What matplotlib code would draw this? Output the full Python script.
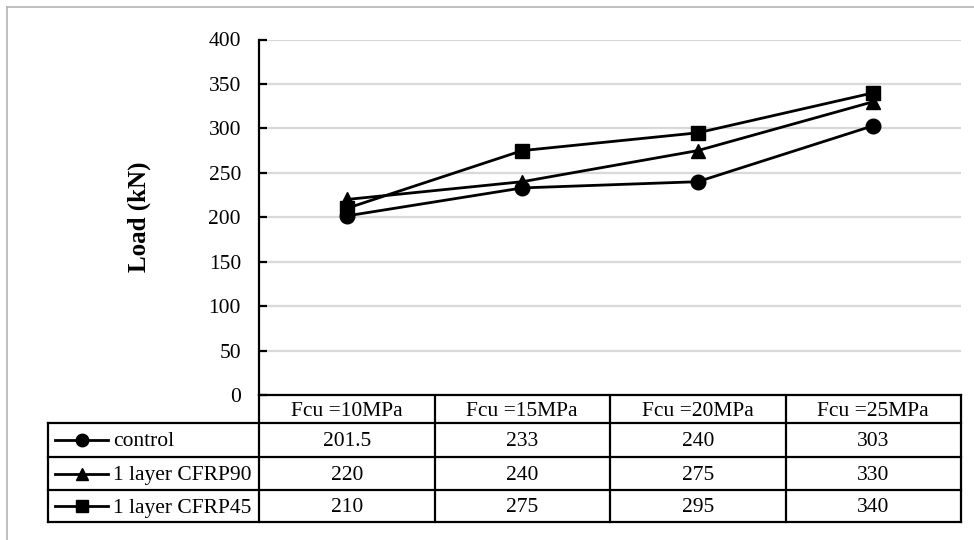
import matplotlib
matplotlib.use('Agg')
import matplotlib.pyplot as plt

# ---- data ----
categories = ['Fcu =10MPa', 'Fcu =15MPa', 'Fcu =20MPa', 'Fcu =25MPa']
series_names = ['control', '1 layer CFRP90', '1 layer CFRP45']
control = [201.5, 233, 240, 303]
cfrp90 = [220, 240, 275, 330]
cfrp45 = [210, 275, 295, 340]
value_labels = [['201.5', '233', '240', '303'],
                ['220', '240', '275', '330'],
                ['210', '275', '295', '340']]
yticks = [0, 50, 100, 150, 200, 250, 300, 350, 400]
series = [control, cfrp90, cfrp45]
markers = ['o', '^', 's']
msizes = [10.5, 10.5, 10]

plt.rcParams['font.family'] = ['Liberation Serif', 'DejaVu Serif']

W, H = 974, 540
fig = plt.figure(figsize=(W / 100, H / 100), dpi=100)

def fx(px):
    return px / W

def fy(py):
    return 1 - py / H

ax_left, ax_right, ax_top, ax_bot = 259, 961, 39.5, 395
ax = fig.add_axes([fx(ax_left), fy(ax_bot), (ax_right - ax_left) / W, (ax_bot - ax_top) / H])
xs = list(range(len(categories)))
for vals, m, ms in zip(series, markers, msizes):
    ax.plot(xs, vals, color='black', lw=2, marker=m, ms=ms, zorder=3, clip_on=False)
ax.set_xlim(-0.5, len(categories) - 0.5)
ax.set_ylim(0, 400)
ax.set_yticks(yticks)
ax.grid(axis='y', color='#d9d9d9', lw=1.6)
ax.set_axisbelow(True)
for s in ['top', 'right']:
    ax.spines[s].set_visible(False)
ax.spines['left'].set_linewidth(1.6)
ax.spines['bottom'].set_linewidth(1.6)
ax.tick_params(axis='y', direction='in', length=6, width=1.6, pad=13, labelsize=15.5)
ax.tick_params(axis='x', bottom=False, labelbottom=False)
ax.set_ylabel('Load (kN)', fontsize=18, fontweight='bold')
ax.yaxis.set_label_coords((151 - ax_left) / (ax_right - ax_left), 0.5)

# ---- data table overlay (pixel coords) ----
tax = fig.add_axes([0, 0, 1, 1], zorder=-1)
tax.set_xlim(0, W)
tax.set_ylim(H, 0)
tax.axis('off')

fig.canvas.draw()
col_edges = [ax.transData.transform((i - 0.5, 0))[0] for i in range(len(categories) + 1)]
col_centers = [ax.transData.transform((i, 0))[0] for i in xs]

row_edges = [395, 423, 457, 490, 522]
left_x = 48
lw = 1.6
# horizontals
for y in row_edges[1:]:
    tax.plot([left_x, col_edges[-1]], [y, y], color='black', lw=lw, solid_capstyle='projecting')
# verticals
for x in col_edges:
    tax.plot([x, x], [row_edges[0], row_edges[-1]], color='black', lw=lw, solid_capstyle='projecting')
tax.plot([left_x, left_x], [row_edges[1], row_edges[-1]], color='black', lw=lw, solid_capstyle='projecting')

fs = 15.5
dy = 2
hy = (row_edges[0] + row_edges[1]) / 2
for cx, c in zip(col_centers, categories):
    tax.text(cx, hy + dy, c, ha='center', va='center', fontsize=fs)
for r, (name, labels, m) in enumerate(zip(series_names, value_labels, markers)):
    cy = (row_edges[r + 1] + row_edges[r + 2]) / 2
    tax.plot([55, 108], [cy, cy], color='black', lw=2)
    tax.plot([82], [cy], color='black', marker=m, ms=9)
    tax.text(113, cy + dy, name, ha='left', va='center', fontsize=fs)
    for cx, lab in zip(col_centers, labels):
        tax.text(cx, cy + dy, lab, ha='center', va='center', fontsize=fs)

# outer chart frame (partially visible)
tax.plot([7, 974], [7, 7], color='#b4b4b4', lw=1.2)
tax.plot([7, 7], [7, 540], color='#b4b4b4', lw=1.2)

fig.savefig('out.png', dpi=100)
